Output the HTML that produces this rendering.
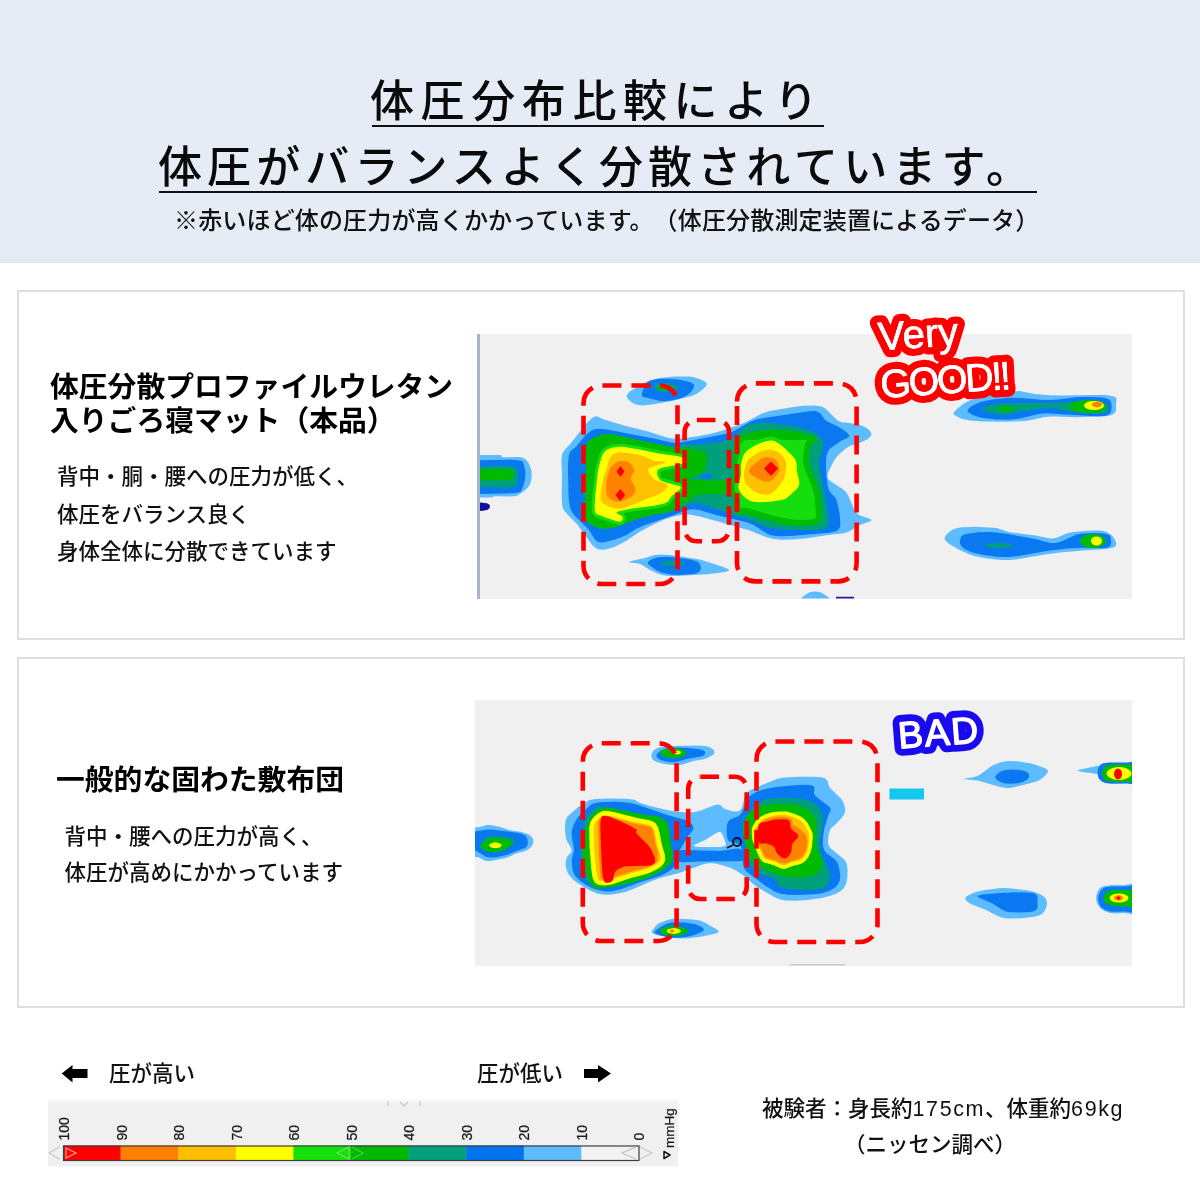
<!DOCTYPE html>
<html lang="ja">
<head>
<meta charset="utf-8">
<style>
html,body{margin:0;padding:0;}
body{width:1200px;height:1200px;position:relative;overflow:hidden;background:#fff;
font-family:"Liberation Sans","Noto Sans CJK JP",sans-serif;color:#111;text-spacing-trim:space-all;}
.abs{position:absolute;white-space:nowrap;}
#hdr{position:absolute;left:0;top:0;width:1200px;height:263px;background:#e6ecf6;}
.t1{font-size:44px;line-height:44px;font-weight:500;color:#0a0a0a;}
.ul{position:absolute;height:2.4px;background:#111;}
.sub{font-size:24px;line-height:24px;font-weight:500;color:#111;}
.card{position:absolute;left:17px;width:1164px;border:2px solid #dedede;background:#fff;}
.h{font-size:28.8px;line-height:34px;font-weight:700;color:#000;}
.b{font-size:21.5px;font-weight:500;color:#111;}
.map{position:absolute;background:#f0f0f0;}
#ov{pointer-events:none;}
.lat{letter-spacing:1.6px;}
</style>
</head>
<body>
<div id="hdr"></div><div style="position:absolute;left:0;top:255px;width:1200px;height:8px;background:linear-gradient(#e5ebf5,#e1e7f0);"></div>
<div class="abs t1" id="tl1" style="left:370px;top:80px;letter-spacing:6.6px;">体圧分布比較により</div>
<div class="ul" style="left:372px;top:125px;width:452px;"></div>
<div class="abs t1" id="tl2" style="left:158px;top:146px;letter-spacing:5.1px;">体圧がバランスよく分散されています。</div>
<div class="ul" style="left:159px;top:191px;width:878px;"></div>
<div class="abs sub" id="sub" style="left:174px;top:209px;letter-spacing:0.16px;">※赤いほど体の圧力が高くかかっています。（体圧分散測定装置によるデータ）</div>

<div class="card" style="top:290px;height:346px;"></div>
<div class="card" style="top:657px;height:347px;"></div>

<div class="abs h" id="h1" style="left:50px;top:370px;">体圧分散プロファイルウレタン<br>入りごろ寝マット（本品）</div>
<div class="abs b" id="b1" style="left:57px;top:459px;line-height:37.5px;">背中・胴・腰への圧力が低く、<br>体圧をバランス良く<br>身体全体に分散できています</div>

<div class="abs h" id="h2" style="left:56px;top:763px;">一般的な固わた敷布団</div>
<div class="abs b" id="b2" style="left:64.5px;top:819px;line-height:36px;">背中・腰への圧力が高く、<br>体圧が高めにかかっています</div>

<div class="map" id="m1" style="left:477px;top:334px;width:655px;height:264.5px;border-left:3px solid #a8b4d2;box-sizing:border-box;"></div>
<div class="map" id="m2" style="left:475px;top:700px;width:657px;height:266px;"></div>

<!--SVG-->
<svg id="ov" width="1200" height="1200" viewBox="0 0 1200 1200" style="position:absolute;left:0;top:0">
<defs><clipPath id="c1"><rect x="480" y="335" width="652" height="263.5"/></clipPath><clipPath id="c2"><rect x="475" y="701" width="657" height="265"/></clipPath></defs>
<g clip-path="url(#c1)">
<path fill="#5cbcff" d="M462.0 455.0 461.0 458.6 459.9 469.7 459.9 482.8 460.3 488.9 461.0 493.9 462.0 497.5 463.4 499.5 465.4 500.5 467.7 500.6 470.2 500.2 477.9 497.8 480.0 497.5 491.0 497.6 492.7 497.4 493.4 496.5 495.0 496.3 511.2 496.4 516.3 495.9 519.1 494.6 524.8 490.6 528.2 487.2 529.7 484.7 530.8 481.8 531.7 477.1 531.4 470.8 530.5 467.5 528.7 463.2 526.7 460.2 524.4 458.4 522.2 457.6 519.0 457.1 503.0 457.3 501.6 456.8 501.6 455.5 500.0 455.0 480.0 455.0 477.5 454.7 467.3 451.9 465.2 452.0 463.4 453.0Z"/>
<path fill="#0a78f0" d="M462.0 460.2 461.0 463.0 460.3 467.1 459.9 471.9 459.9 482.3 461.0 491.2 462.0 494.0 463.3 495.6 464.8 496.4 466.7 496.5 476.8 494.3 480.0 494.0 507.8 493.5 517.2 492.7 520.5 491.7 522.6 487.9 524.6 481.8 525.5 474.1 525.1 469.7 523.3 462.4 521.9 461.1 518.0 460.2 510.3 459.8 480.0 460.2 476.7 460.0 466.6 457.7 464.8 457.8 463.3 458.6Z"/>
<path fill="#00a07c" d="M462.0 466.6 461.0 468.3 460.3 470.7 459.9 473.7 459.9 479.9 461.0 485.3 462.0 487.0 463.3 488.0 464.9 488.4 480.0 487.0 502.0 487.8 510.1 487.5 513.0 487.0 515.0 486.1 516.4 485.0 517.8 482.1 517.8 470.6 516.4 468.3 513.0 466.6 510.1 466.2 502.0 465.9 480.0 466.6 466.8 465.1 463.3 465.6Z"/>
<path fill="#00bb00" d="M462.0 469.5 460.3 471.6 459.9 473.1 459.9 476.4 461.0 479.1 463.3 480.5 466.9 480.8 480.0 480.0 507.5 480.2 511.7 479.6 512.8 479.1 513.7 477.8 513.2 475.0 513.6 472.7 513.4 471.2 511.7 469.9 510.0 469.5 500.2 469.1 480.0 469.5 466.9 468.7 463.3 469.0Z"/>
<path fill="#10109a" d="M476.0 503.5 475.0 505.0 474.8 508.1 475.4 509.9 476.9 510.8 481.3 510.9 487.0 510.0 489.0 508.7 489.9 507.0 490.0 506.0 489.3 504.6 486.8 503.2 480.8 502.6 477.9 502.8Z"/>
<path fill="#5cbcff" d="M595.8 416.3 593.7 416.9 591.8 418.2 586.6 423.2 570.0 444.3 564.4 450.2 562.6 453.0 562.0 454.8 561.4 459.0 562.0 475.0 561.7 497.9 562.3 506.1 563.7 509.9 567.7 514.7 577.0 524.0 592.2 544.9 594.7 547.3 597.9 549.2 601.7 549.7 605.6 549.4 610.1 548.3 615.0 546.7 625.6 541.3 639.0 532.2 654.2 524.0 663.2 520.1 671.7 517.0 676.6 515.7 682.0 514.8 689.7 514.5 700.6 516.7 719.1 521.7 749.7 530.5 766.5 537.3 773.5 538.9 781.7 539.7 792.8 539.5 805.0 538.5 828.3 535.0 843.8 533.3 849.9 531.0 861.0 524.5 869.6 521.5 871.4 520.4 871.5 519.8 870.9 519.2 859.0 515.0 856.4 512.9 854.1 509.1 848.4 496.0 845.8 491.8 843.2 489.5 835.5 484.6 829.7 480.4 828.0 478.8 827.2 476.7 828.0 472.6 833.1 462.5 835.8 458.0 838.9 454.5 844.9 449.3 849.3 446.3 851.5 445.3 857.5 444.0 868.0 438.9 870.9 436.1 871.4 434.3 871.0 432.5 869.2 430.0 867.2 428.4 864.4 426.8 859.3 424.8 855.5 423.8 841.8 422.3 838.4 421.1 835.9 419.1 826.0 408.9 822.5 406.7 815.6 405.5 802.8 405.8 790.2 407.4 769.7 410.9 761.7 413.5 748.7 420.8 742.8 423.5 723.0 430.5 711.4 433.4 699.2 435.9 685.1 438.0 677.2 438.8 671.7 438.5 666.0 437.3 648.3 431.5 625.0 425.7 611.6 421.8 603.3 419.2 597.8 416.5Z"/>
<path fill="#0a78f0" d="M590.0 431.5 584.4 436.6 576.0 446.7 570.9 450.8 569.5 453.0 568.6 457.1 567.9 466.2 568.6 498.3 570.0 507.7 571.9 512.0 574.3 515.2 588.8 529.8 594.8 539.3 595.9 540.6 598.2 542.1 600.5 542.6 604.3 542.2 611.5 540.5 618.6 538.2 626.7 534.9 635.0 529.6 645.1 525.1 674.2 514.9 684.7 510.8 690.2 509.4 693.0 509.2 698.4 509.7 716.0 515.0 746.7 522.2 753.7 525.1 766.7 533.6 770.0 535.0 773.7 535.8 779.8 536.3 790.6 536.1 828.9 532.7 836.0 531.2 837.7 530.3 839.7 527.9 840.4 524.8 839.9 515.5 837.8 504.1 835.7 498.3 831.1 493.3 829.1 490.3 827.7 485.9 826.3 473.6 826.0 465.0 826.3 457.1 827.5 452.5 829.3 449.6 830.6 448.3 841.4 440.8 848.3 437.4 849.3 435.8 849.1 434.9 847.4 432.9 841.5 428.7 838.4 426.8 829.3 422.6 826.0 420.7 823.7 418.2 821.0 414.1 818.5 411.9 814.4 411.0 809.0 411.3 759.0 418.8 754.8 419.9 750.0 421.8 734.1 431.1 727.8 433.6 679.2 442.8 675.0 443.0 671.2 442.6 655.0 438.7 607.3 429.4 599.2 428.7 595.8 428.9 593.1 429.8Z"/>
<path fill="#00a07c" d="M676.0 511.3 687.5 504.8 693.0 503.3 695.8 503.2 698.7 503.6 704.6 505.1 746.0 518.8 754.6 521.8 764.4 526.6 770.0 528.0 787.3 529.7 805.0 530.3 817.5 530.0 822.4 529.3 826.0 528.0 828.0 526.1 828.6 523.7 828.0 512.2 825.3 496.3 820.2 472.5 818.8 462.4 819.2 459.0 821.0 454.7 823.5 444.4 823.3 440.9 822.5 439.3 818.1 434.9 813.7 432.2 808.2 429.9 801.4 427.8 792.6 425.9 778.3 423.8 770.0 423.0 759.9 422.9 751.4 423.9 746.7 425.3 743.1 427.7 736.7 435.6 731.2 438.8 724.7 441.0 716.0 442.7 707.5 443.6 676.0 445.3Z"/>
<path fill="#00bb00" d="M595.0 436.9 587.2 441.5 586.2 449.6 584.8 499.5 585.0 515.8 585.7 519.9 586.8 521.8 592.3 525.6 596.6 527.6 599.9 528.5 603.6 528.8 607.8 528.5 614.7 527.4 621.4 525.6 634.5 520.1 641.1 518.0 654.2 514.7 664.9 513.2 669.3 512.1 677.1 508.4 697.7 494.9 704.0 494.2 720.0 494.0 740.7 495.0 743.3 494.7 745.0 494.0 745.9 492.7 746.2 490.9 746.0 488.7 744.3 484.1 741.5 480.2 740.0 479.0 738.3 478.4 733.8 478.4 722.8 480.3 717.0 480.5 697.2 480.1 691.9 479.7 689.7 479.1 689.6 478.5 690.8 477.5 701.7 473.0 704.0 470.9 705.4 468.5 706.3 465.9 707.0 462.0 707.3 458.0 707.0 455.3 705.9 452.9 705.0 452.0 702.2 450.6 698.5 449.7 688.0 448.2 677.5 447.5 668.1 446.1 636.7 439.7 617.3 435.1 610.6 434.0 604.7 434.0 599.5 435.1Z"/>
<path fill="#00bb00" d="M735.0 441.7 734.0 445.1 732.9 454.2 733.0 493.7 733.7 506.0 735.0 511.7 735.9 513.4 737.0 514.2 738.2 514.5 742.7 513.8 746.7 514.0 770.0 521.0 781.5 523.9 790.3 525.5 803.8 526.0 811.0 525.6 816.9 524.4 819.0 523.3 820.4 521.8 821.3 520.0 821.9 515.5 820.6 495.3 818.1 485.6 810.4 467.7 809.7 465.0 809.1 459.6 809.6 451.9 810.8 446.0 812.2 444.0 815.9 442.6 816.7 441.7 816.4 439.2 815.2 437.3 812.7 435.5 810.8 434.7 797.7 431.8 785.5 430.2 770.2 430.0 762.6 430.6 755.6 431.6 742.1 434.7 738.0 437.2 736.4 439.1Z"/>
<path fill="#0a78f0" d="M712.0 476.5 711.5 475.4 710.2 474.5 706.0 473.7 701.8 474.5 700.5 475.4 700.0 476.5 700.5 477.6 701.8 478.5 706.0 479.3 710.2 478.5 711.5 477.6Z"/>
<path fill="#14df0c" d="M602.9 449.1 601.3 451.0 599.3 454.8 595.6 467.9 592.3 495.2 591.6 503.8 591.7 510.4 592.3 512.9 593.2 514.8 594.6 516.3 596.0 517.2 615.3 523.9 619.1 524.7 621.3 524.5 622.7 523.9 624.3 522.4 625.3 520.8 625.8 518.9 625.3 515.6 623.0 513.3 633.3 511.4 658.3 508.0 666.9 505.8 670.3 503.4 673.8 498.1 680.7 492.9 683.4 489.9 684.0 488.3 683.9 487.1 683.2 485.3 681.9 484.1 678.8 482.8 662.6 478.2 661.6 477.2 660.6 475.3 660.0 472.4 660.3 471.7 662.1 470.9 681.5 466.9 685.0 465.3 686.8 462.6 687.2 460.9 687.0 459.2 685.3 456.3 682.4 454.3 677.6 453.1 660.5 450.7 639.9 446.5 623.2 443.7 616.7 443.9 610.5 445.1 606.3 446.8Z"/>
<path fill="#14df0c" d="M739.9 453.7 738.3 457.8 736.8 464.5 737.0 474.6 734.8 482.7 734.3 486.9 734.7 489.5 736.1 493.0 740.0 498.2 740.2 508.1 744.9 507.7 748.3 508.2 768.6 514.4 788.2 519.1 796.8 519.8 807.2 519.9 812.9 519.3 815.5 518.3 815.8 517.1 815.8 513.4 815.1 500.0 814.3 494.3 812.5 487.7 804.8 469.8 803.3 462.7 803.2 456.5 804.1 448.4 805.4 443.4 806.3 441.6 807.7 440.0 781.0 440.0 775.7 437.4 770.2 436.5 764.8 437.4 757.5 440.0 745.4 440.0 742.1 441.6 740.6 444.0 740.0 446.0Z"/>
<path fill="#ffff00" d="M605.0 451.3 602.9 454.1 601.4 457.7 598.8 467.0 597.7 473.3 595.3 495.6 594.5 507.3 595.1 511.9 595.7 513.2 597.5 514.6 600.7 515.4 605.0 517.3 616.1 521.0 620.3 521.7 621.6 521.0 622.4 519.8 622.8 518.3 622.7 517.0 621.3 515.8 617.1 513.4 616.6 512.8 616.8 512.3 617.6 511.8 622.3 510.4 630.8 508.8 655.4 505.4 664.2 503.6 668.0 501.5 671.7 496.0 678.7 490.6 680.7 488.6 681.0 487.8 680.8 487.1 679.1 486.1 663.9 481.9 661.1 480.8 660.0 480.0 658.4 477.8 657.3 475.0 657.0 472.2 657.7 470.0 658.5 469.2 661.2 468.0 680.8 463.9 683.0 463.0 684.0 461.6 684.1 460.0 683.2 458.4 681.0 457.0 677.1 456.0 660.0 453.7 639.4 449.5 623.0 446.7 619.0 446.7 613.1 447.5 607.8 449.3Z"/>
<path fill="#ffff00" d="M746.7 451.0 743.4 455.6 741.4 462.2 740.7 466.6 741.0 475.0 738.8 483.4 738.3 486.8 739.0 489.8 740.6 492.8 742.9 495.5 746.7 498.8 751.5 501.4 758.3 502.3 770.1 501.7 781.7 500.0 785.0 498.9 787.3 497.5 795.8 490.0 797.9 487.6 799.2 484.8 799.3 481.5 796.8 470.8 796.6 464.0 795.7 460.3 794.2 457.9 791.1 454.4 783.4 447.1 778.8 443.4 775.8 441.7 773.0 440.8 770.4 440.5 765.9 441.2 760.0 443.3 755.1 445.6 750.4 448.2Z"/>
<path fill="#ffc000" d="M618.0 452.5 613.8 453.7 612.1 455.1 610.0 458.0 608.8 460.6 606.3 470.0 603.8 477.0 601.2 489.3 600.4 496.5 601.2 500.9 603.2 503.4 609.0 506.6 613.9 508.2 619.2 508.8 622.8 508.2 628.6 506.4 648.3 498.3 657.4 495.1 662.8 491.7 665.5 489.4 667.6 487.0 668.0 485.0 667.3 484.2 656.5 480.8 653.7 478.9 649.3 473.5 648.0 470.0 648.7 468.6 650.4 467.6 664.8 462.8 666.0 462.0 664.7 461.6 657.7 461.3 654.0 460.7 644.1 456.3 637.5 454.5 625.6 452.7Z"/>
<path fill="#ffc000" d="M750.0 458.0 747.9 460.3 746.6 462.7 743.9 472.4 743.6 477.1 745.1 481.8 747.3 485.1 750.2 488.3 753.4 491.0 756.7 492.8 760.5 494.1 764.4 494.8 768.3 494.7 771.7 493.4 775.0 490.6 778.1 487.2 782.5 481.4 784.3 478.0 785.9 470.4 786.4 465.2 786.0 462.0 783.9 457.7 780.6 453.9 778.0 452.0 773.6 450.2 768.5 449.6 765.0 450.0 759.1 452.2 755.0 454.4Z"/>
<path fill="#ff8200" d="M610.0 468.8 608.9 471.4 606.5 481.4 606.0 485.0 606.2 492.2 606.9 494.9 608.3 497.0 610.2 499.0 612.6 500.6 616.8 501.8 620.2 501.5 624.1 500.4 630.8 497.2 632.8 495.5 634.3 493.5 635.2 491.3 635.5 489.0 634.8 486.5 631.6 481.0 630.8 478.5 631.3 476.2 634.3 471.0 634.0 468.9 632.1 465.5 629.1 462.6 626.8 461.6 624.0 461.1 619.6 461.3 617.0 462.0 614.9 463.2 612.1 465.9Z"/>
<path fill="#ff8200" d="M749.2 469.7 749.3 471.9 751.0 474.2 756.6 478.3 764.0 481.3 768.6 481.7 770.0 481.3 772.8 479.6 776.9 475.3 779.3 470.8 779.5 467.9 778.3 463.5 776.8 461.0 775.1 459.2 771.4 457.5 766.0 457.0 763.7 457.6 761.4 458.8 754.5 463.9 750.7 467.4Z"/>
<path fill="#ff0000" d="M620.5 466.0 624.5 471.5 620.5 477.0 616.5 471.5Z"/>
<path fill="#ff0000" d="M620.3 489.0 625.3 495.0 620.3 501.0 615.3 495.0Z"/>
<path fill="#ff0000" d="M771.0 461.5 778.0 468.5 771.0 476.0 764.0 468.5Z"/>
<path fill="#5cbcff" d="M626.7 395.5 626.9 397.6 629.3 400.6 632.5 403.0 635.8 404.5 639.9 405.3 643.3 405.5 652.1 404.6 672.1 401.1 691.2 396.3 696.8 393.7 702.4 389.8 706.2 385.8 706.7 383.7 705.5 382.0 701.8 379.9 694.9 377.4 689.8 376.5 674.4 376.6 658.3 378.2 649.4 380.4 642.4 383.7 630.2 391.3 627.9 393.4Z"/>
<path fill="#0a78f0" d="M641.7 394.7 641.9 395.6 643.0 396.7 658.9 400.7 663.5 401.3 671.1 400.6 679.7 398.5 686.7 395.5 690.1 392.8 692.8 389.6 694.1 386.4 694.0 385.0 693.3 383.8 689.5 381.9 679.9 379.8 667.2 378.7 661.4 378.7 655.8 379.2 651.0 380.4 649.0 381.3 645.9 384.1 642.8 389.9Z"/>
<path fill="#00a07c" d="M678.0 387.5 677.1 385.8 674.5 384.3 670.6 383.3 666.0 383.0 661.4 383.3 657.5 384.3 654.9 385.8 654.0 387.5 654.9 389.2 657.5 390.7 661.4 391.7 666.0 392.0 670.6 391.7 674.5 390.7 677.1 389.2Z"/>
<path fill="#00bb00" d="M670.0 387.0 669.5 385.9 668.2 384.9 664.0 384.0 659.8 384.9 658.5 385.9 658.0 387.0 658.5 388.1 659.8 389.1 664.0 390.0 668.2 389.1 669.5 388.1Z"/>
<path fill="#5cbcff" d="M629.0 562.0 629.9 562.5 636.7 563.3 640.0 564.0 642.5 565.2 648.7 569.3 655.8 572.8 662.0 575.0 666.7 575.8 676.7 576.0 707.5 574.3 725.1 572.0 728.7 570.8 729.0 570.0 728.0 569.1 722.8 566.7 700.7 559.8 680.0 556.3 670.0 555.0 660.0 554.6 653.6 555.2 645.0 558.0 633.3 560.6Z"/>
<path fill="#0a78f0" d="M648.0 562.0 647.9 563.5 649.1 565.0 657.2 570.8 663.0 573.0 670.9 574.5 680.0 575.0 693.3 573.9 697.6 572.7 699.0 572.0 699.9 571.0 700.8 568.5 700.8 567.1 699.9 564.2 698.0 562.0 696.6 561.2 690.2 559.4 677.5 557.7 667.0 556.8 660.0 557.0 656.0 557.8 652.4 559.1 649.6 560.5Z"/>
<path fill="#00a07c" d="M684.0 563.5 683.1 562.5 680.5 561.7 672.0 561.0 663.5 561.7 660.9 562.5 660.0 563.5 660.9 564.5 663.5 565.3 672.0 566.0 680.5 565.3 683.1 564.5Z"/>
<path fill="#5cbcff" d="M954.0 412.0 953.4 413.6 954.0 414.7 958.8 417.6 962.4 419.1 969.7 420.6 983.2 421.6 1007.1 421.8 1024.5 421.0 1031.4 420.0 1043.5 417.3 1050.0 416.5 1057.1 416.4 1076.1 417.3 1101.6 416.6 1108.8 415.7 1111.5 415.0 1113.4 414.1 1114.8 412.9 1116.1 410.2 1116.0 404.5 1116.6 399.3 1116.1 398.1 1115.0 397.1 1113.0 396.2 1105.5 395.1 1092.4 394.9 1062.9 395.5 1049.7 395.3 1035.0 394.0 1019.6 391.1 1007.3 391.5 990.0 394.0 983.8 395.5 975.1 398.3 967.5 401.5 963.1 404.1 957.5 408.4Z"/>
<path fill="#0a78f0" d="M967.5 410.5 967.8 411.6 968.8 412.6 972.2 414.7 977.0 416.6 982.5 418.0 996.6 419.6 1008.6 419.7 1016.2 419.1 1020.0 418.4 1038.8 413.9 1046.2 413.3 1090.5 416.0 1099.1 416.2 1105.5 415.7 1109.1 414.3 1110.8 412.2 1111.4 409.8 1111.6 405.1 1110.8 401.4 1108.7 399.3 1104.7 397.9 1098.7 397.2 1087.5 396.9 1076.4 397.2 1058.1 399.5 1050.0 400.0 1041.0 399.7 1021.5 398.0 1008.3 397.8 992.3 399.4 982.5 401.5 977.0 403.4 972.2 405.8 968.8 408.2Z"/>
<path fill="#00a07c" d="M982.5 409.0 984.0 410.5 990.0 412.9 995.1 414.0 999.9 414.4 1010.7 413.4 1046.6 407.6 1050.0 407.5 1056.0 408.1 1066.5 410.9 1072.5 412.0 1084.3 413.2 1096.6 413.8 1102.5 413.5 1104.4 413.0 1106.8 411.3 1107.6 409.1 1107.0 406.0 1105.8 404.2 1103.6 402.3 1100.2 400.8 1097.8 400.3 1091.4 400.0 1054.1 403.1 1015.8 403.1 1001.2 403.5 994.3 404.2 988.9 405.4 984.9 406.8 982.8 408.3Z"/>
<path fill="#00bb00" d="M1014.0 409.0 1013.4 407.9 1011.7 406.9 1006.0 406.0 1000.3 406.9 998.6 407.9 998.0 409.0 998.6 410.1 1000.3 411.1 1006.0 412.0 1011.7 411.1 1013.4 410.1Z"/>
<path fill="#00bb00" d="M1107.0 406.5 1106.6 405.2 1105.6 404.0 1101.4 401.9 1095.3 400.5 1088.0 400.0 1080.7 400.5 1074.6 401.9 1070.4 404.0 1069.4 405.2 1069.0 406.5 1069.4 407.8 1070.4 409.0 1074.6 411.1 1080.7 412.5 1088.0 413.0 1095.3 412.5 1101.4 411.1 1105.6 409.0 1106.6 407.8Z"/>
<path fill="#ffff00" d="M1104.0 405.5 1103.2 403.8 1101.1 402.3 1097.8 401.3 1094.0 401.0 1090.2 401.3 1086.9 402.3 1084.8 403.8 1084.0 405.5 1084.8 407.2 1086.9 408.7 1090.2 409.7 1094.0 410.0 1097.8 409.7 1101.1 408.7 1103.2 407.2Z"/>
<path fill="#ff8200" d="M1102.0 404.5 1101.6 403.4 1100.5 402.4 1097.0 401.5 1093.5 402.4 1092.4 403.4 1092.0 404.5 1092.4 405.6 1093.5 406.6 1097.0 407.5 1100.5 406.6 1101.6 405.6Z"/>
<path fill="#5cbcff" d="M944.6 538.5 945.0 539.9 946.0 541.3 949.4 544.1 960.6 550.4 969.9 554.6 975.4 556.3 985.3 558.3 1000.9 560.0 1009.4 560.0 1018.7 559.1 1043.5 554.7 1060.0 552.6 1083.1 550.5 1106.4 549.0 1112.7 547.8 1114.5 546.9 1115.7 545.9 1116.3 543.4 1114.9 539.6 1111.5 535.1 1106.7 532.0 1102.0 530.8 1095.2 530.4 1086.8 530.7 1071.0 532.3 1065.8 533.7 1056.1 538.1 1051.8 538.6 1047.5 538.0 1035.6 535.4 1009.4 532.3 996.8 528.1 976.2 526.7 962.0 527.2 955.5 528.5 952.9 529.6 948.5 532.4 945.6 535.5Z"/>
<path fill="#0a78f0" d="M960.7 537.4 959.8 541.9 960.1 543.9 962.0 546.9 965.6 549.5 971.0 552.0 978.5 554.0 988.6 555.8 996.6 556.7 1005.1 557.1 1009.4 557.0 1018.7 556.0 1048.0 550.8 1067.8 548.6 1082.6 547.7 1101.3 548.2 1106.5 547.8 1108.2 547.3 1110.3 546.0 1111.1 543.4 1110.8 537.4 1109.5 535.3 1108.2 534.5 1104.1 533.5 1093.8 532.9 1082.2 533.4 1075.7 534.7 1061.3 541.5 1055.6 543.0 1050.2 542.9 1036.1 539.2 1008.3 534.1 998.4 532.7 989.9 532.1 978.1 532.3 966.2 533.9 964.3 534.4 961.9 535.8Z"/>
<path fill="#00a07c" d="M1013.0 545.5 1011.9 544.5 1008.9 543.7 999.0 543.0 989.1 543.7 986.1 544.5 985.0 545.5 986.1 546.5 989.1 547.3 999.0 548.0 1008.9 547.3 1011.9 546.5Z"/>
<path fill="#00bb00" d="M1106.0 541.0 1105.0 538.3 1102.2 536.1 1098.0 534.5 1093.0 534.0 1088.0 534.5 1083.8 536.1 1081.0 538.3 1080.0 541.0 1081.0 543.7 1083.8 545.9 1088.0 547.5 1093.0 548.0 1098.0 547.5 1102.2 545.9 1105.0 543.7Z"/>
<path fill="#ffff00" d="M1102.0 541.0 1101.6 539.3 1100.4 537.8 1098.6 536.8 1096.5 536.5 1094.4 536.8 1092.6 537.8 1091.4 539.3 1091.0 541.0 1091.4 542.7 1092.6 544.2 1094.4 545.2 1096.5 545.5 1098.6 545.2 1100.4 544.2 1101.6 542.7Z"/>
<path fill="#5cbcff" d="M802.0 600.0 807.2 600.7 819.9 600.8 827.0 600.4 829.0 600.0 829.8 599.4 829.6 598.6 827.6 596.6 821.1 592.5 818.5 591.7 814.1 591.5 809.7 592.2 805.7 594.5 801.8 597.6 801.2 598.6 801.2 599.4Z"/>
<path fill="#2020a0" d="M836.0 596.8 854.0 596.8 854.0 600.0 836.0 600.0Z"/>
</g>
<g clip-path="url(#c2)">
<path fill="#5cbcff" d="M470.0 831.3 469.1 836.4 468.8 843.3 469.5 852.9 470.6 856.3 472.4 857.2 478.0 857.0 484.5 860.4 486.7 861.1 490.9 861.0 505.7 858.0 509.4 856.7 515.8 853.5 524.6 851.2 528.2 849.4 530.4 847.7 532.4 845.1 533.2 842.8 533.1 839.8 532.1 837.4 530.4 835.4 527.7 833.9 520.4 831.7 510.0 830.2 501.3 827.3 492.4 825.2 487.2 825.0 479.5 827.0 474.8 827.6 472.0 828.7 470.8 829.8Z"/>
<path fill="#0a78f0" d="M470.0 834.3 468.6 836.8 468.4 840.0 469.4 844.7 470.7 847.1 474.2 849.9 484.3 855.8 486.8 856.9 489.6 857.6 496.8 857.3 507.3 854.8 515.8 851.2 525.4 847.8 526.9 846.3 527.9 843.4 527.5 839.5 526.5 837.1 525.3 835.6 521.7 833.7 517.5 832.7 493.8 829.7 488.6 829.5 477.4 831.1 473.0 832.5Z"/>
<path fill="#00a07c" d="M515.0 842.0 514.1 840.1 511.5 838.5 507.6 837.4 503.0 837.0 498.4 837.4 494.5 838.5 491.9 840.1 491.0 842.0 491.9 843.9 494.5 845.5 498.4 846.6 503.0 847.0 507.6 846.6 511.5 845.5 514.1 843.9Z"/>
<path fill="#00bb00" d="M480.8 845.3 480.6 846.8 481.2 848.0 484.6 850.4 488.8 851.9 493.8 852.3 499.9 851.4 504.2 850.0 509.8 846.6 512.0 844.7 512.9 843.0 512.7 842.3 511.2 840.9 507.2 839.2 498.9 837.2 493.0 836.7 489.6 837.2 486.7 838.7 483.0 842.1Z"/>
<path fill="#ffff00" d="M501.4 845.3 500.9 844.2 499.6 843.2 495.4 842.3 491.2 843.2 489.9 844.2 489.4 845.3 489.9 846.4 491.2 847.4 495.4 848.3 499.6 847.4 500.9 846.4Z"/>
<path fill="#5cbcff" d="M588.8 800.3 578.4 806.9 569.3 814.7 567.2 817.0 565.8 820.0 565.1 823.9 564.9 828.5 565.8 837.5 567.1 841.2 570.8 847.6 571.7 850.3 571.2 852.4 568.2 855.5 567.0 857.3 565.7 861.7 565.6 865.4 566.5 869.4 568.3 873.8 570.4 876.8 573.3 879.8 577.5 883.0 584.7 887.6 591.2 891.0 596.6 893.2 602.2 894.5 609.0 894.7 616.7 893.8 624.2 892.3 630.9 890.0 650.5 881.6 659.2 878.3 679.0 873.0 704.2 864.0 710.0 863.0 714.7 863.4 722.4 865.2 729.5 867.5 735.1 870.0 743.0 875.0 753.4 884.2 760.4 889.1 776.6 898.2 780.2 899.6 785.0 900.5 795.5 900.7 807.7 899.9 821.5 897.9 830.4 895.8 835.4 894.0 840.9 890.9 844.4 887.3 846.5 882.5 847.3 878.0 847.6 869.9 847.0 865.0 845.8 861.4 843.8 858.9 838.7 855.1 830.0 847.7 828.5 845.0 828.0 841.5 828.5 835.3 830.0 830.0 831.5 827.7 836.5 823.5 841.9 817.5 843.9 814.8 844.6 813.4 845.2 810.6 844.7 806.1 842.9 801.5 840.9 798.5 830.0 788.0 829.1 786.5 827.3 780.6 826.4 779.4 824.8 778.3 822.5 777.5 814.7 776.7 798.7 776.7 782.1 777.8 776.6 779.1 755.2 787.7 749.6 790.8 747.5 792.5 745.9 794.5 744.7 796.9 742.1 807.2 741.2 809.1 740.0 810.5 738.4 811.3 736.6 811.6 732.5 811.2 725.0 809.0 722.9 807.8 720.3 804.9 717.5 804.5 712.8 805.7 700.7 810.4 695.0 812.0 687.8 812.6 676.7 811.8 667.9 810.3 650.1 806.1 640.1 803.1 634.4 799.8 626.6 798.7 607.4 798.4 595.0 799.0Z"/>
<path fill="#f0f0f0" d="M693.5 846.0 695.7 846.6 700.1 846.9 720.6 847.0 725.0 846.0 725.7 845.3 725.9 843.4 722.4 834.3 720.7 832.3 719.3 831.9 716.8 832.8 705.0 840.0 694.5 844.8Z"/>
<path fill="#0a78f0" d="M591.9 804.1 581.9 812.5 577.5 817.7 573.9 824.2 572.0 829.8 571.6 833.8 571.8 836.0 574.0 849.2 573.6 852.4 571.7 859.2 572.4 868.5 573.5 872.4 575.2 876.0 579.6 880.5 585.4 884.4 591.0 887.4 594.8 888.9 600.6 890.6 606.0 891.4 610.8 891.4 620.8 889.3 641.7 881.8 659.8 876.0 665.0 873.7 669.7 870.8 675.8 865.8 680.0 861.0 680.9 858.2 679.7 851.5 680.6 848.4 688.0 836.0 692.4 830.7 693.4 828.9 693.4 827.1 691.8 824.2 689.0 821.7 686.9 820.4 666.7 814.8 638.4 805.0 630.7 802.9 624.3 802.2 616.2 801.8 603.7 802.0 597.3 802.5Z"/>
<path fill="#0a78f0" d="M678.0 851.0 676.8 851.9 675.4 854.7 675.4 857.9 675.9 859.4 676.8 860.6 678.0 861.5 682.0 862.2 700.0 861.5 737.6 861.3 743.3 860.7 745.0 860.0 745.9 859.0 746.2 857.6 745.3 854.3 743.0 851.1 740.0 849.0 738.2 848.6 733.6 848.9 720.0 851.0 684.7 850.0 679.7 850.5Z"/>
<path fill="#0a78f0" d="M755.9 792.3 749.1 796.6 747.4 798.9 742.4 811.4 741.0 813.9 738.8 815.9 731.9 818.7 729.0 820.6 727.3 823.8 726.6 828.5 726.9 836.2 728.0 840.0 729.0 841.2 730.4 842.0 738.9 844.2 740.7 846.0 741.5 848.2 743.3 865.8 744.5 869.0 746.5 871.6 766.1 886.2 776.1 892.2 782.0 894.1 788.8 894.7 798.3 894.9 809.0 894.6 818.7 893.7 822.5 893.0 828.5 891.2 831.0 890.1 835.1 887.5 837.9 884.3 839.8 880.5 840.3 875.6 839.1 867.7 837.5 863.0 836.3 861.1 834.7 859.3 826.7 853.2 825.1 851.4 824.0 849.5 822.9 844.9 823.1 837.2 824.4 827.9 828.9 813.7 830.5 811.1 830.9 809.5 830.0 807.5 828.8 806.2 818.4 798.5 815.0 795.5 814.2 794.0 814.0 792.5 814.4 787.9 813.9 786.6 812.7 785.7 810.5 785.0 802.4 784.7 791.2 785.4 774.3 787.3 766.5 788.7 760.5 790.4Z"/>
<path fill="#00a07c" d="M580.2 846.1 580.4 852.6 581.6 861.8 584.1 872.6 586.7 880.2 589.2 884.7 592.3 887.9 600.0 890.4 600.0 805.4 596.1 807.6 592.5 810.6 589.2 814.3 586.5 818.8 584.3 824.1 581.7 833.4 580.6 840.0Z"/>
<path fill="#00a07c" d="M758.0 804.5 752.4 808.6 748.9 813.0 748.0 815.0 746.6 820.3 745.4 830.4 745.0 842.8 746.0 853.2 748.0 860.0 750.2 864.0 753.1 867.7 757.9 872.3 761.1 874.5 764.5 875.6 769.7 876.7 773.0 878.0 774.4 879.1 778.7 885.1 780.2 886.5 782.3 887.6 785.0 888.5 798.5 889.9 814.6 889.7 822.5 888.5 825.0 887.5 826.8 886.1 828.1 884.5 829.5 880.8 829.9 873.2 828.7 869.5 824.8 861.9 821.2 853.4 820.1 849.8 819.5 845.0 819.6 841.9 822.4 825.8 822.9 818.1 822.5 815.0 821.6 812.3 819.2 807.7 817.5 805.7 813.3 802.4 807.5 800.0 799.1 798.5 788.6 797.9 778.1 798.0 767.3 798.9 765.2 799.4 762.3 800.8Z"/>
<path fill="#00bb00" d="M583.3 843.3 583.2 849.3 584.1 858.4 586.3 869.3 588.5 876.7 590.4 880.9 592.7 884.2 595.4 886.3 598.3 887.4 602.0 887.8 606.7 887.7 616.8 886.3 632.3 882.8 648.5 877.5 656.8 873.8 665.4 868.5 670.0 864.2 672.0 860.8 672.6 858.9 672.6 852.8 670.8 843.3 669.3 830.9 667.8 824.7 666.6 822.1 665.0 820.0 663.0 818.4 657.8 816.5 645.0 814.8 615.4 808.8 605.5 807.2 603.3 807.3 600.8 808.3 597.8 810.1 593.1 814.2 589.2 820.0 587.1 825.0 584.7 834.0Z"/>
<path fill="#00bb00" d="M743.0 824.0 742.5 827.8 743.0 834.0 745.7 845.3 748.2 853.1 750.5 857.9 753.7 861.9 757.8 865.3 762.5 868.3 770.0 872.0 778.1 875.1 786.8 877.3 795.4 878.1 804.7 877.6 812.9 875.9 816.7 874.0 818.2 872.8 820.5 869.9 822.3 864.8 822.4 861.1 821.0 857.1 818.0 850.3 816.5 845.0 816.1 838.5 816.4 827.4 815.8 820.7 815.0 818.0 812.6 813.7 811.0 811.9 807.3 809.1 800.0 806.0 796.9 805.3 789.3 804.3 777.0 804.1 770.0 804.5 764.4 805.3 757.6 807.4 753.7 809.3 750.4 811.8 746.3 816.6 744.3 820.2Z"/>
<path fill="#ffff00" d="M589.1 827.6 589.6 847.7 591.3 868.7 592.2 875.6 592.9 878.4 594.9 882.4 596.1 883.6 599.0 885.0 604.5 885.4 611.8 884.4 630.0 878.3 645.4 874.2 650.9 872.3 657.4 869.1 660.8 866.7 663.4 864.0 665.0 860.8 665.3 859.0 664.9 854.9 661.5 843.3 659.6 832.7 658.2 827.5 655.7 823.5 653.9 822.1 649.4 820.3 638.5 818.3 612.5 811.8 605.8 810.8 602.1 811.3 597.9 813.6 594.9 816.1 592.2 819.1 590.3 822.3Z"/>
<path fill="#ffff00" d="M752.8 826.0 752.0 828.8 751.7 831.9 752.0 837.5 752.6 840.6 756.0 849.6 759.4 857.2 761.5 860.6 763.6 862.2 773.8 865.3 781.2 868.5 784.6 869.0 792.5 866.0 799.8 864.2 802.6 863.1 805.9 860.4 808.5 856.8 810.5 852.5 811.9 846.9 812.7 839.1 812.7 833.5 810.0 827.4 807.4 822.8 803.8 818.8 800.6 816.6 794.8 813.9 786.9 811.6 779.3 811.4 772.1 812.3 765.4 814.2 761.0 816.5 756.1 820.8Z"/>
<path fill="#ffc000" d="M593.6 827.9 594.1 847.4 596.2 871.7 597.8 878.6 599.0 880.1 600.2 880.7 606.3 880.8 610.7 880.0 628.6 874.0 646.9 869.0 651.4 867.2 656.6 864.2 659.0 862.3 660.6 859.6 660.5 855.8 657.1 844.2 654.7 831.2 653.3 827.7 651.5 825.9 650.1 825.3 634.8 822.1 614.0 816.7 606.7 815.4 604.2 815.4 601.7 816.4 599.3 818.2 595.8 821.8 594.4 824.1Z"/>
<path fill="#ffc000" d="M756.0 827.3 755.2 832.0 755.9 839.6 762.5 855.7 764.1 858.2 765.3 859.1 775.1 862.0 782.2 865.2 784.2 865.5 791.5 862.6 800.9 860.0 803.3 858.0 805.5 855.1 807.2 851.3 808.4 846.3 809.2 838.8 809.2 834.2 806.9 828.9 804.5 824.8 801.6 821.5 798.8 819.7 793.5 817.1 786.4 815.1 781.2 814.8 774.4 815.5 768.1 817.0 762.9 819.4 758.8 823.1Z"/>
<path fill="#ff8200" d="M598.0 821.6 598.8 855.7 600.7 879.3 606.1 879.3 610.3 878.6 628.2 872.6 646.4 867.6 652.6 864.9 657.7 861.4 657.3 857.2 658.3 853.5 655.6 844.6 653.2 831.6 652.0 828.5 650.7 827.2 647.8 826.1 637.2 824.2 631.5 822.7 630.7 823.2 627.4 821.6 619.1 819.4 605.6 816.8 603.4 817.2 600.2 819.3Z"/>
<path fill="#ff8200" d="M782.3 862.8 784.9 863.7 791.1 861.2 799.4 859.0 802.2 857.0 804.8 853.2 806.2 849.5 807.5 841.7 807.0 838.0 805.0 834.0 802.1 830.7 796.3 826.4 792.8 825.0 792.3 820.9 791.4 819.3 789.8 818.0 784.9 816.8 779.1 816.8 772.9 817.4 767.4 818.8 764.8 820.0 761.8 822.2 759.9 824.1 757.8 827.1 757.1 828.7 756.7 832.0 757.4 839.1 761.0 848.5 763.9 855.0 765.2 857.2 767.8 858.5 775.6 860.6 780.5 862.9Z"/>
<path fill="#ff0000" d="M600.8 819.0 600.4 823.6 600.4 829.9 601.6 861.5 603.0 877.7 603.7 880.7 605.1 882.5 606.1 882.8 608.4 882.7 610.7 881.9 612.5 880.7 613.3 879.1 614.2 873.5 616.9 870.0 620.3 867.9 624.2 866.7 627.1 866.3 647.8 865.7 651.0 865.2 653.3 864.3 654.6 863.0 655.2 861.4 654.8 857.4 651.0 849.0 648.0 845.0 637.0 834.0 636.1 832.1 636.8 830.2 635.8 829.0 626.4 823.9 609.4 816.6 602.9 815.7 601.7 816.6Z"/>
<path fill="#ff0000" d="M758.8 824.8 758.1 828.5 757.9 836.1 758.4 840.5 759.4 842.9 761.1 843.6 766.3 843.5 772.2 845.4 774.4 847.2 776.9 853.2 780.1 856.4 782.1 857.7 784.1 858.5 785.9 858.3 787.6 857.2 789.9 854.5 791.4 851.5 791.9 845.7 792.5 843.5 794.0 841.5 797.8 837.8 798.5 836.0 797.4 834.1 792.8 830.4 791.0 828.5 790.3 826.3 790.2 822.9 789.5 821.0 787.7 819.8 784.6 819.3 774.6 819.6 765.2 822.0 761.0 822.6 759.4 823.7Z"/>
<path fill="#5cbcff" d="M651.3 755.0 651.6 757.4 652.4 759.0 654.7 761.0 657.1 762.1 661.7 763.4 668.3 764.5 673.3 765.1 678.3 765.2 683.3 764.3 693.3 761.0 703.7 759.2 706.7 758.3 712.0 755.5 714.0 753.9 714.7 752.3 713.4 749.8 711.3 748.2 708.4 746.8 704.8 746.0 697.2 745.6 675.9 745.9 662.6 746.9 658.0 747.8 655.6 748.9 653.7 750.5 652.3 752.3Z"/>
<path fill="#0a78f0" d="M656.7 754.3 656.4 755.8 656.9 757.2 658.2 758.6 660.0 759.7 666.0 761.5 673.3 762.3 678.2 761.5 686.7 759.0 702.0 756.2 704.2 755.1 705.4 753.0 704.9 751.5 703.3 750.3 698.4 749.0 689.1 747.9 676.3 747.5 668.7 747.9 664.9 748.8 660.2 751.0 658.0 752.7Z"/>
<path fill="#00bb00" d="M686.3 753.0 685.3 751.1 682.5 749.5 678.3 748.4 673.3 748.0 668.3 748.4 664.1 749.5 661.3 751.1 660.3 753.0 661.3 754.9 664.1 756.5 668.3 757.6 673.3 758.0 678.3 757.6 682.5 756.5 685.3 754.9Z"/>
<path fill="#ffff00" d="M681.0 752.5 680.7 751.7 679.8 751.1 677.0 750.5 674.2 751.1 673.3 751.7 673.0 752.5 673.3 753.3 674.2 753.9 677.0 754.5 679.8 753.9 680.7 753.3Z"/>
<path fill="#5cbcff" d="M652.0 931.0 651.6 932.1 652.0 933.1 656.1 934.9 669.6 937.6 679.4 938.6 688.8 938.2 702.1 936.5 714.6 933.8 717.4 932.9 718.8 931.8 718.3 930.6 716.5 929.3 704.7 922.5 700.0 920.5 692.6 919.4 676.4 918.6 673.1 918.8 668.1 919.7 660.1 922.8 657.6 924.3 655.5 926.3Z"/>
<path fill="#0a78f0" d="M655.0 931.0 654.4 932.3 655.0 933.2 660.1 935.2 669.5 937.4 676.0 937.8 685.9 936.9 694.4 934.9 701.5 931.9 703.5 930.3 703.8 929.5 703.5 928.7 701.7 927.0 698.6 925.4 694.6 924.0 684.6 922.5 675.4 922.2 670.0 922.8 665.3 924.3 658.9 927.9Z"/>
<path fill="#00bb00" d="M687.8 931.0 686.7 929.1 683.7 927.5 679.2 926.4 673.8 926.0 668.4 926.4 663.9 927.5 660.9 929.1 659.8 931.0 660.9 932.9 663.9 934.5 668.4 935.6 673.8 936.0 679.2 935.6 683.7 934.5 686.7 932.9Z"/>
<path fill="#ffff00" d="M680.8 931.0 680.3 929.9 678.7 928.9 673.8 928.0 668.9 928.9 667.3 929.9 666.8 931.0 667.3 932.1 668.9 933.1 673.8 934.0 678.7 933.1 680.3 932.1Z"/>
<path fill="#ff8200" d="M674.5 931.0 673.8 929.9 672.0 929.5 670.2 929.9 669.5 931.0 670.2 932.1 672.0 932.5 673.8 932.1Z"/>
<path fill="#5cbcff" d="M962.5 779.0 977.5 780.5 1000.0 787.0 1005.6 787.9 1009.4 787.9 1013.1 787.4 1031.1 783.1 1037.3 781.3 1040.6 779.6 1044.9 776.0 1047.6 772.4 1048.0 770.7 1047.2 769.5 1045.6 768.5 1037.2 765.2 1031.3 763.4 1017.2 761.2 1007.5 761.0 999.7 762.5 992.5 765.5 988.8 767.9 981.2 773.8 977.5 776.0 973.0 777.3Z"/>
<path fill="#0a78f0" d="M995.5 776.0 995.1 777.1 995.6 778.6 997.6 780.5 1000.2 782.0 1005.0 783.5 1010.4 783.8 1018.4 783.3 1022.8 782.1 1025.3 780.8 1028.0 778.7 1028.9 777.3 1029.1 775.7 1028.3 773.3 1026.0 771.5 1020.0 770.0 1011.9 769.4 1005.7 769.9 1001.8 771.0 998.4 773.1Z"/>
<path fill="#5cbcff" d="M1078.0 770.0 1077.4 770.6 1080.9 771.7 1097.4 774.0 1099.0 773.5 1099.5 772.9 1100.1 769.7 1099.5 766.6 1099.0 766.0 1097.5 765.7Z"/>
<path fill="#0a78f0" d="M1097.5 773.0 1098.1 776.8 1099.4 779.3 1102.2 781.7 1105.2 783.0 1111.5 783.7 1127.5 783.6 1138.8 785.0 1143.4 784.5 1145.0 783.5 1146.1 781.7 1146.9 779.2 1147.5 773.0 1146.9 766.8 1146.1 764.3 1145.0 762.5 1143.4 761.5 1138.8 761.0 1127.5 762.4 1109.7 762.4 1103.1 763.2 1100.7 764.4 1098.9 766.6 1097.8 769.8Z"/>
<path fill="#00bb00" d="M1102.0 773.0 1102.3 775.8 1103.1 777.7 1105.0 780.0 1106.9 780.9 1115.0 782.0 1128.0 782.0 1139.7 783.3 1143.7 782.8 1145.0 782.0 1146.6 778.5 1147.1 773.4 1146.6 768.2 1145.0 764.7 1143.7 763.9 1139.7 763.4 1128.0 764.7 1116.4 764.6 1107.8 765.2 1106.0 766.0 1103.8 768.2 1102.8 770.1Z"/>
<path fill="#ffff00" d="M1131.5 773.5 1130.5 771.0 1127.8 768.9 1123.8 767.5 1119.0 767.0 1114.2 767.5 1110.2 768.9 1107.5 771.0 1106.5 773.5 1107.5 776.0 1110.2 778.1 1114.2 779.5 1119.0 780.0 1123.8 779.5 1127.8 778.1 1130.5 776.0Z"/>
<path fill="#ff0000" d="M1122.0 774.0 1121.7 771.9 1120.8 770.1 1119.5 768.9 1118.0 768.5 1116.5 768.9 1115.2 770.1 1114.3 771.9 1114.0 774.0 1114.3 776.1 1115.2 777.9 1116.5 779.1 1118.0 779.5 1119.5 779.1 1120.8 777.9 1121.7 776.1Z"/>
<path fill="#5cbcff" d="M965.5 897.5 965.2 899.0 966.1 900.5 967.8 902.0 971.4 904.2 985.0 909.5 998.1 916.3 1001.8 917.5 1006.9 918.4 1012.7 918.6 1024.1 918.0 1033.9 916.8 1039.0 915.5 1042.2 913.7 1044.3 911.4 1046.1 907.7 1047.0 904.2 1046.7 900.7 1045.0 897.5 1042.9 895.7 1038.6 893.4 1033.0 891.5 1028.2 890.5 1012.0 888.5 1004.4 888.1 999.0 888.3 982.0 890.5 977.5 891.5 971.7 893.5 967.2 895.9Z"/>
<path fill="#0a78f0" d="M977.5 896.0 977.6 896.7 978.7 897.6 992.5 903.5 1003.1 910.3 1008.2 912.1 1019.6 912.5 1030.6 912.0 1034.5 911.0 1035.7 910.2 1036.6 909.3 1037.5 907.0 1037.5 896.9 1036.3 894.6 1033.0 893.0 1022.3 892.2 1000.0 893.0 982.7 894.4 978.4 895.4Z"/>
<path fill="#5cbcff" d="M1096.0 898.0 1096.3 900.6 1097.1 903.3 1100.0 908.0 1104.3 911.1 1110.0 913.0 1115.0 913.4 1125.0 913.0 1135.9 914.8 1141.3 915.0 1143.4 914.3 1145.0 913.0 1146.1 910.6 1146.9 907.3 1147.5 899.0 1146.9 890.7 1146.1 887.4 1145.0 885.0 1143.4 883.7 1141.3 883.0 1135.9 883.2 1125.0 885.0 1111.6 884.9 1103.1 886.2 1100.0 888.0 1098.4 890.0 1096.7 893.9Z"/>
<path fill="#0a78f0" d="M1098.0 898.0 1098.7 902.8 1101.0 907.0 1104.8 909.8 1110.0 911.5 1115.0 911.8 1125.0 911.5 1135.9 913.1 1141.3 913.3 1143.4 912.7 1145.0 911.5 1146.1 909.4 1146.9 906.4 1147.5 899.0 1146.9 891.6 1146.1 888.6 1145.0 886.5 1143.4 885.3 1141.3 884.7 1135.9 884.9 1125.0 886.5 1111.5 886.4 1105.3 887.2 1102.8 888.4 1100.6 890.8 1098.8 894.3Z"/>
<path fill="#00bb00" d="M1103.5 898.0 1103.9 900.5 1105.4 902.8 1107.0 904.0 1110.6 905.3 1119.2 906.6 1128.0 906.5 1139.6 907.7 1143.6 907.3 1145.0 906.5 1146.6 903.1 1147.1 898.2 1146.6 893.4 1145.0 890.0 1143.6 889.2 1139.6 888.8 1128.0 890.0 1112.7 890.1 1109.0 890.6 1107.1 891.6 1105.6 893.2 1104.4 895.2Z"/>
<path fill="#ffff00" d="M1128.5 898.0 1127.8 896.3 1125.7 894.8 1122.6 893.8 1119.0 893.5 1115.4 893.8 1112.3 894.8 1110.2 896.3 1109.5 898.0 1110.2 899.7 1112.3 901.2 1115.4 902.2 1119.0 902.5 1122.6 902.2 1125.7 901.2 1127.8 899.7Z"/>
<path fill="#ff8200" d="M1123.0 898.0 1122.7 896.9 1121.7 895.9 1118.5 895.0 1115.3 895.9 1114.3 896.9 1114.0 898.0 1114.3 899.1 1115.3 900.1 1118.5 901.0 1121.7 900.1 1122.7 899.1Z"/>
<path fill="#ff0000" d="M1120.5 898.0 1119.9 896.9 1118.5 896.5 1117.1 896.9 1116.5 898.0 1117.1 899.1 1118.5 899.5 1119.9 899.1Z"/>
</g>
<g fill="none" stroke="#ff0000" stroke-width="4.6">
<path d="M583.5 403.5 A18 18 0 0 1 601.5 385.5 H659.5 A18 18 0 0 1 677.5 403.5 V566.0 A18 18 0 0 1 659.5 584.0 H601.5 A18 18 0 0 1 583.5 566.0 Z" stroke-dasharray="19 10"/>
<path d="M737.0 401.4 A18 18 0 0 1 755.0 383.4 H838.6 A18 18 0 0 1 856.6 401.4 V563.4 A18 18 0 0 1 838.6 581.4 H755.0 A18 18 0 0 1 737.0 563.4 Z" stroke-dasharray="19 10"/>
<path d="M582.8 761.3 A18 18 0 0 1 600.8 743.3 H658.6 A18 18 0 0 1 676.6 761.3 V923.0 A18 18 0 0 1 658.6 941.0 H600.8 A18 18 0 0 1 582.8 923.0 Z" stroke-dasharray="19 10"/>
<path d="M756.5 759.5 A18 18 0 0 1 774.5 741.5 H859.5 A18 18 0 0 1 877.5 759.5 V924.0 A18 18 0 0 1 859.5 942.0 H774.5 A18 18 0 0 1 756.5 924.0 Z" stroke-dasharray="19 10"/>
<path d="M696.6 420.0 H717.0 A12 12 0 0 1 729.0 432.0 V529.3 A12 12 0 0 1 717.0 541.3 H696.6 A12 12 0 0 1 684.6 529.3 V432.0 A12 12 0 0 1 696.6 420.0 Z" stroke-dasharray="18.5 9.8" stroke-dashoffset="-0.3"/>
<path d="M700.2 776.7 H734.7 A12 12 0 0 1 746.7 788.7 V887.0 A12 12 0 0 1 734.7 899.0 H700.2 A12 12 0 0 1 688.2 887.0 V788.7 A12 12 0 0 1 700.2 776.7 Z" stroke-dasharray="18.5 9.8" stroke-dashoffset="-0.3"/>
</g>
<rect x="889.5" y="788.5" width="34.5" height="11" fill="#12c8ec"/>
<rect x="790" y="964" width="55" height="1.5" fill="#c8c8e0"/>
<g fill="none" stroke="#111" stroke-width="1.8"><circle cx="737" cy="842" r="4"/><path d="M733 845 L727 848"/></g>
<g font-family="Liberation Sans, sans-serif" font-weight="400" stroke-linejoin="round" paint-order="stroke">
<g transform="rotate(-4 880 350)">
<text x="879" y="350.5" font-size="40" letter-spacing="0" fill="#fff" stroke="#ff0000" stroke-width="15">Very</text>
<text x="879" y="350.5" font-size="40" letter-spacing="0" fill="#fff" stroke="#fff" stroke-width="0.6">Very</text>
<text x="878" y="398" font-size="39.5" letter-spacing="-2.4" fill="#fff" stroke="#ff0000" stroke-width="15">GOOD!!</text>
<text x="878" y="398" font-size="39.5" letter-spacing="-2.4" fill="#fff" stroke="#fff" stroke-width="0.6">GOOD!!</text>
</g>
<g transform="rotate(-4.4 900 748)">
<text x="899" y="748.5" font-size="37.5" letter-spacing="1.6" fill="#fff" stroke="#1a0af0" stroke-width="15">BAD</text>
<text x="899" y="748.5" font-size="37.5" letter-spacing="1.6" fill="#fff" stroke="#fff" stroke-width="1.3">BAD</text>
</g>
</g>

<rect x="48" y="1100" width="630" height="66.5" fill="#f0f0f0"/>
<rect x="48" y="1100" width="630" height="3" fill="#f6f6f6"/>
<rect x="63.0" y="1145.5" width="57.9" height="15" fill="#ff0000"/>
<rect x="120.6" y="1145.5" width="57.9" height="15" fill="#ff8000"/>
<rect x="178.2" y="1145.5" width="57.9" height="15" fill="#ffbf00"/>
<rect x="235.8" y="1145.5" width="57.9" height="15" fill="#ffff00"/>
<rect x="293.4" y="1145.5" width="57.9" height="15" fill="#14e10a"/>
<rect x="351.0" y="1145.5" width="57.9" height="15" fill="#00b900"/>
<rect x="408.6" y="1145.5" width="57.9" height="15" fill="#00a07a"/>
<rect x="466.2" y="1145.5" width="57.9" height="15" fill="#0073ee"/>
<rect x="523.8" y="1145.5" width="57.9" height="15" fill="#5cbcff"/>
<rect x="581.4" y="1145.5" width="57.6" height="15" fill="#f2f2f2"/>
<rect x="63.5" y="1146" width="575.5" height="14.5" fill="none" stroke="#404040" stroke-width="1.2"/>
<g font-family="Liberation Sans, sans-serif" font-size="14" fill="#1a1a1a" stroke="#1a1a1a" stroke-width="0.25">
<text transform="translate(69.3 1140.5) rotate(-90)">100</text>
<text transform="translate(126.8 1140.5) rotate(-90)">90</text>
<text transform="translate(184.3 1140.5) rotate(-90)">80</text>
<text transform="translate(241.8 1140.5) rotate(-90)">70</text>
<text transform="translate(299.3 1140.5) rotate(-90)">60</text>
<text transform="translate(356.8 1140.5) rotate(-90)">50</text>
<text transform="translate(414.3 1140.5) rotate(-90)">40</text>
<text transform="translate(471.8 1140.5) rotate(-90)">30</text>
<text transform="translate(529.3 1140.5) rotate(-90)">20</text>
<text transform="translate(586.8 1140.5) rotate(-90)">10</text>
<text transform="translate(644.3 1140.5) rotate(-90)">0</text>
<text transform="translate(673.5 1148) rotate(-90)" font-size="13.5">mmHg</text>
</g>
<path d="M664 1151.5 L670 1155 L664 1158.5 Z" fill="none" stroke="#111" stroke-width="1.5" stroke-linejoin="round"/>
<g fill="none" stroke-width="1.2">
<path d="M60 1146.5 L49 1153 L60 1159.5" stroke="#c8c8c8"/>
<path d="M66 1148 L76 1153 L66 1158 Z" stroke="#ff9a9a"/>
<path d="M349 1147 L337 1153 L349 1159 Z" stroke="#78d870"/>
<path d="M352 1147 L363 1153 L352 1159" stroke="#50c850"/>
<path d="M636 1147 L622 1153 L636 1159" stroke="#c0c0c0"/>
<path d="M640 1147 L652 1153 L640 1159" stroke="#c8c8c8"/>
<path d="M388 1101 L388 1106 M420 1101 L420 1106 M400 1102 L404 1106 L408 1102" stroke="#c8c8c8"/>
</g>
<path d="M61.7 1073.5 L72.5 1065 L72.5 1069 L87.5 1069 L87.5 1078 L72.5 1078 L72.5 1082.5 Z" fill="#000"/>
<path d="M611 1073.5 L598 1065 L598 1069 L584 1069 L584 1078 L598 1078 L598 1082.5 Z" fill="#000"/>
</svg>
<!--/SVG-->
<div class="abs b" style="left:109px;top:1056px;">圧が高い</div>
<div class="abs b" style="left:477px;top:1056px;">圧が低い</div>
<div class="abs b" style="left:762px;top:1091px;">被験者：身長約<span class="lat">175cm</span>、体重約<span class="lat">69kg</span></div>
<div class="abs b" style="left:844px;top:1127px;">（ニッセン調べ）</div>
</body>
</html>
